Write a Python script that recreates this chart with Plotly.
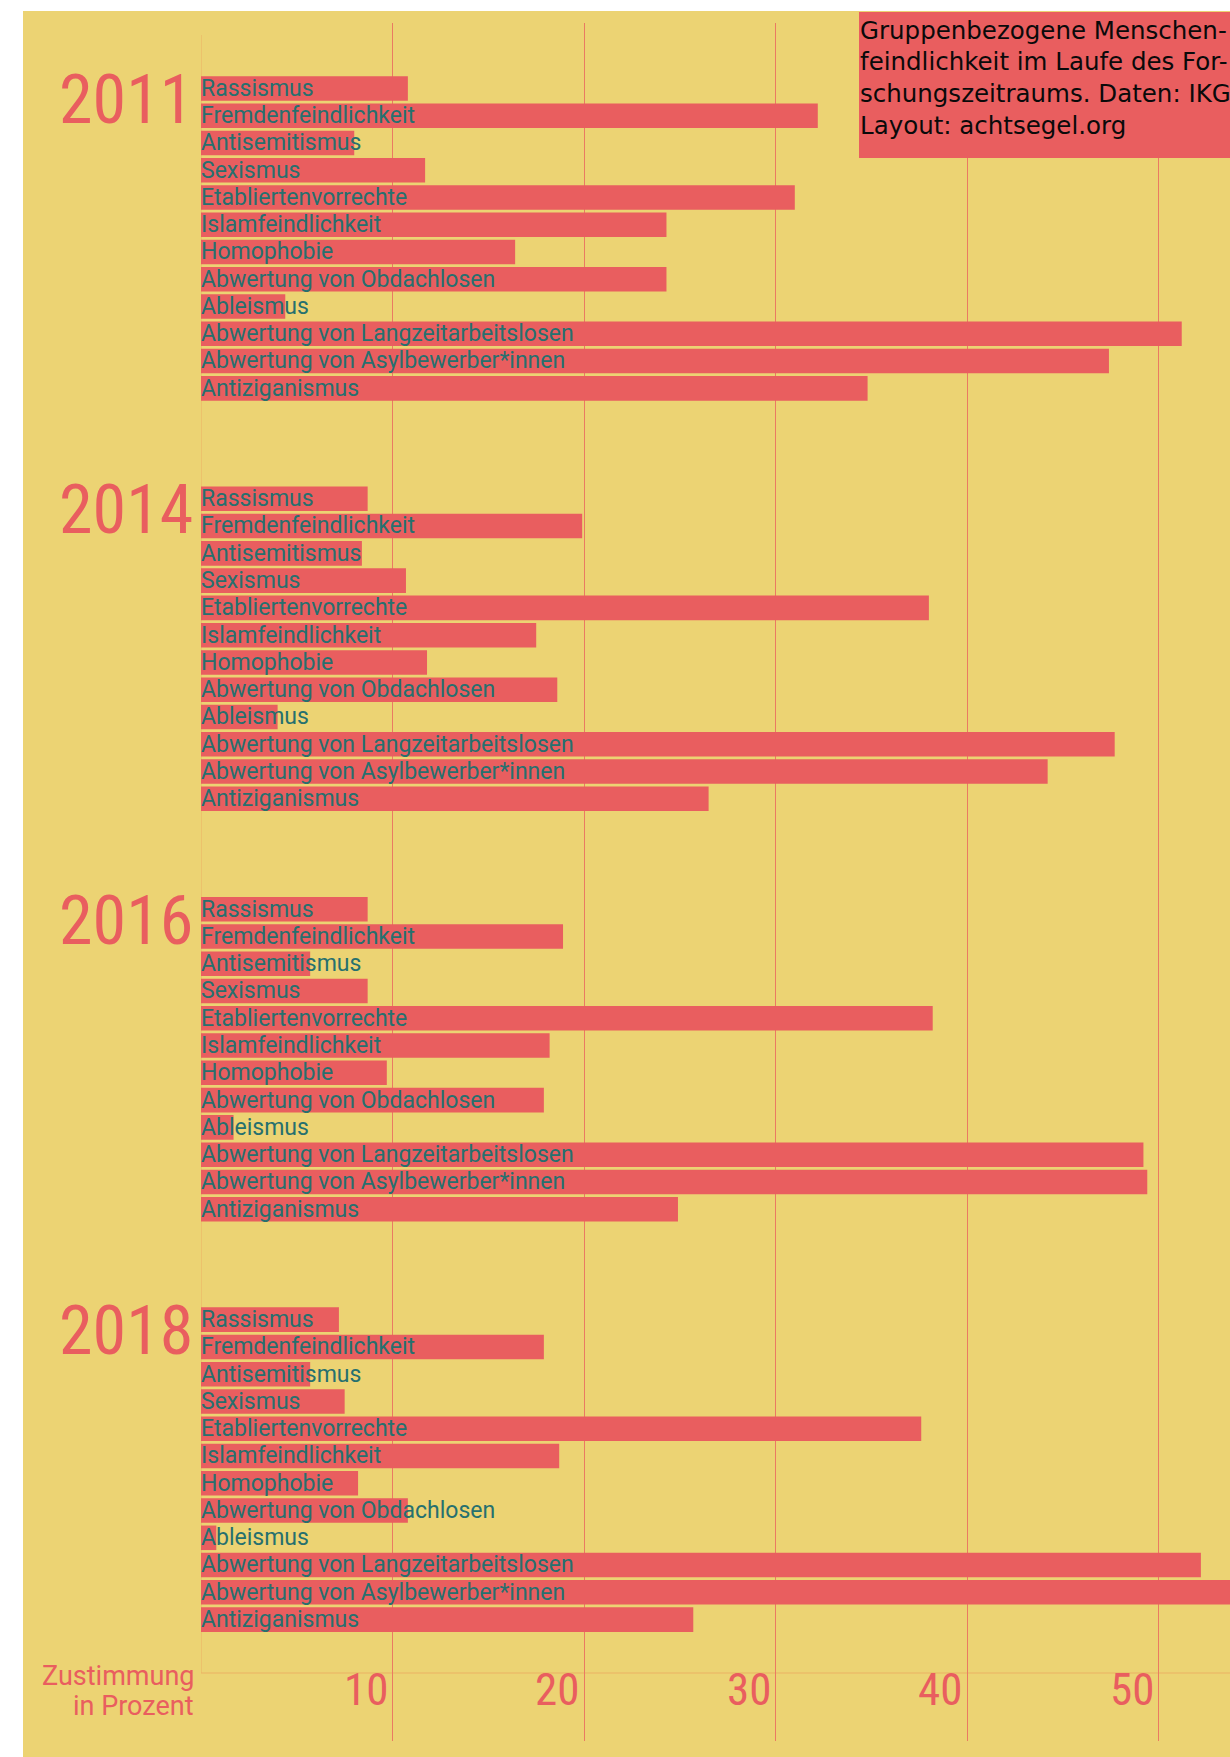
import plotly.graph_objects as go

# ---------------- data ----------------
years = ["2011", "2014", "2016", "2018"]
categories = [
    "Rassismus",
    "Fremdenfeindlichkeit",
    "Antisemitismus",
    "Sexismus",
    "Etabliertenvorrechte",
    "Islamfeindlichkeit",
    "Homophobie",
    "Abwertung von Obdachlosen",
    "Ableismus",
    "Abwertung von Langzeitarbeitslosen",
    "Abwertung von Asylbewerber*innen",
    "Antiziganismus",
]
values_2011 = [10.8, 32.2, 8.0, 11.7, 31.0, 24.3, 16.4, 24.3, 4.4, 51.2, 47.4, 34.8]
values_2014 = [8.7, 19.9, 8.4, 10.7, 38.0, 17.5, 11.8, 18.6, 4.0, 47.7, 44.2, 26.5]
values_2016 = [8.7, 18.9, 5.7, 8.7, 38.2, 18.2, 9.7, 17.9, 1.7, 49.2, 49.4, 24.9]
values_2018 = [7.2, 17.9, 5.7, 7.5, 37.6, 18.7, 8.2, 10.8, 0.8, 52.2, 55.0, 25.7]
tick_values = [10, 20, 30, 40, 50]
tick_labels = ["10", "20", "30", "40", "50"]
title_lines = [
    "Gruppenbezogene Menschen-",
    "feindlichkeit im Laufe des For-",
    "schungszeitraums. Daten: IKG",
    "Layout: achtsegel.org",
]
axis_title_lines = ["Zustimmung", "in Prozent"]

all_values = [values_2011, values_2014, values_2016, values_2018]

# ---------------- style / geometry (page pixel coordinates) ----------------
W, H = 1230, 1757
PLOT_L, PLOT_T, PLOT_B = 201, 23, 1741
L, T, B, R = PLOT_L, PLOT_T, H - PLOT_B, 0
PW, PH = W - L - R, PLOT_B - PLOT_T
PX_PER_UNIT = 19.155
ROW0_PX, ROW_PITCH = 88.4, 27.27
GROUP_STEP = 15.05
LABEL_DROP = 0.06   # labels sit a hair below the bar centre

BG = "#ECD373"
CORAL = "#E95E5F"
TEAL = "#26706F"
GRID = "#EA7A62"
AXIS = "#EBB164"
NARROW = "Liberation Sans Narrow, Roboto Condensed, DejaVu Sans Condensed, sans-serif"


def py(px):
    return 1 - (px - PLOT_T) / PH


def pxx(px):
    return (px - PLOT_L) / PW


ys, xs, labels = [], [], []
for g, vals in enumerate(all_values):
    for i, (cat, v) in enumerate(zip(categories, vals)):
        ys.append(g * GROUP_STEP + i)
        xs.append(v)
        labels.append(cat)

fig = go.Figure()
fig.add_trace(go.Bar(
    x=xs, y=ys, orientation="h", width=0.9,
    marker=dict(color=CORAL, line=dict(width=0)),
    hoverinfo="skip", showlegend=False,
))
fig.add_trace(go.Scatter(
    x=[0] * len(ys), y=[y + LABEL_DROP for y in ys], mode="text", text=labels,
    textposition="middle right",
    textfont=dict(family="Roboto, sans-serif", size=23, color=TEAL),
    cliponaxis=False, hoverinfo="skip", showlegend=False,
))

shapes = [
    dict(type="rect", xref="paper", yref="paper", x0=pxx(23), x1=1.02,
         y0=-0.02, y1=py(11), fillcolor=BG, line=dict(width=0), layer="below"),
    dict(type="line", xref="x", yref="paper", x0=0, x1=0, y0=py(1673), y1=py(35),
         line=dict(color=AXIS, width=1), layer="below"),
    dict(type="line", xref="x", yref="paper", x0=0, x1=PW / PX_PER_UNIT,
         y0=py(1673), y1=py(1673), line=dict(color=AXIS, width=1), layer="below"),
    dict(type="rect", xref="paper", yref="paper", x0=pxx(859), x1=1.02,
         y0=py(158), y1=py(12), fillcolor=CORAL, line=dict(width=0), layer="above"),
]

annotations = []
for g, yr in enumerate(years):
    annotations.append(dict(
        text=yr, xref="paper", yref="y", x=pxx(195), y=g * GROUP_STEP + 0.42,
        xanchor="right", yanchor="middle", showarrow=False,
        font=dict(family=NARROW, size=68, color=CORAL),
    ))
for tv, tl in zip(tick_values, tick_labels):
    annotations.append(dict(
        text=tl, xref="x", yref="paper", x=tv, y=py(1689), xshift=-3,
        xanchor="right", yanchor="middle", showarrow=False,
        font=dict(family=NARROW, size=45, color=CORAL),
    ))
for k, line in enumerate(axis_title_lines):
    annotations.append(dict(
        text=line, xref="paper", yref="paper", x=pxx(196), y=py(1676 + 30 * k),
        xanchor="right", yanchor="middle", showarrow=False,
        font=dict(family="Roboto, sans-serif", size=27, color=CORAL),
    ))
for k, line in enumerate(title_lines):
    annotations.append(dict(
        text=line, xref="paper", yref="paper", x=pxx(858), y=py(30 + 31.7 * k),
        xanchor="left", yanchor="middle", showarrow=False,
        font=dict(family="DejaVu Sans, sans-serif", size=24.5, color="#0A0A0A"),
    ))

fig.update_layout(
    width=W, height=H,
    margin=dict(l=L, r=R, t=T, b=B, pad=0),
    paper_bgcolor="white", plot_bgcolor="rgba(0,0,0,0)",
    showlegend=False, hovermode=False,
    shapes=shapes, annotations=annotations,
    xaxis=dict(range=[0, PW / PX_PER_UNIT], tickvals=tick_values,
               showticklabels=False, ticks="", showgrid=True,
               gridcolor=GRID, gridwidth=1, zeroline=False, showline=False,
               fixedrange=True),
    yaxis=dict(range=[(PLOT_B - ROW0_PX) / ROW_PITCH, (PLOT_T - ROW0_PX) / ROW_PITCH],
               showticklabels=False, ticks="", showgrid=False,
               zeroline=False, showline=False, fixedrange=True),
)

fig.write_html(
    "out.html",
    config={"displayModeBar": False, "staticPlot": True},
    post_script="document.body.style.margin='0';document.body.style.overflow='hidden';"
                "document.documentElement.style.overflow='hidden';",
)
